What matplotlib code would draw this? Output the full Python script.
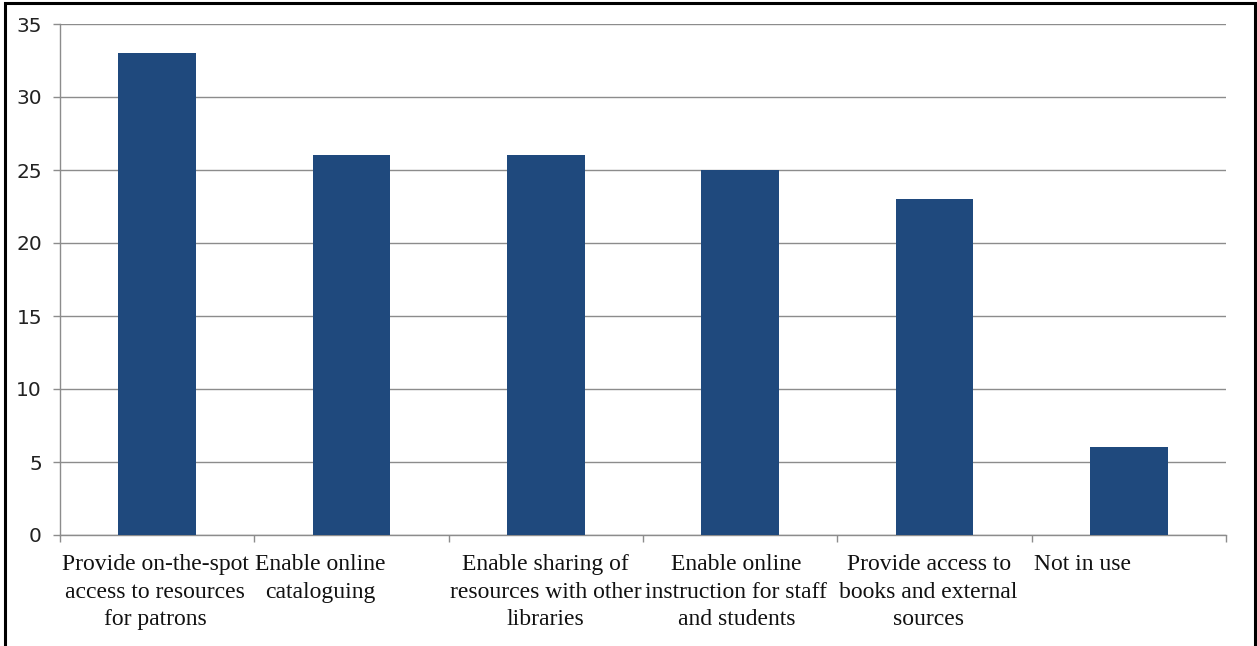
import matplotlib
matplotlib.use("Agg")
import matplotlib.pyplot as plt
import matplotlib.patches as patches
import numpy as np

categories = [
    "Provide on-the-spot\naccess to resources\nfor patrons",
    "Enable online\ncataloguing",
    "Enable sharing of\nresources with other\nlibraries",
    "Enable online\ninstruction for staff\nand students",
    "Provide access to\nbooks and external\nsources",
    "Not in use",
]
values = [33, 26, 26, 25, 23, 6]
yticks = [0, 5, 10, 15, 20, 25, 30, 35]

# label shift (in category widths) to mimic how the spreadsheet placed them
label_shift = [-0.01, -0.16, 0.0, -0.02, -0.03, -0.24]

W, H = 1257, 646
fig = plt.figure(figsize=(W / 100, H / 100), dpi=100)
ax = fig.add_axes([60 / W, (H - 535) / H, (1226 - 60) / W, (535 - 24) / H])

x = np.arange(len(values))
ax.bar(x, values, width=0.4, color="#1F497D", zorder=3)

grid = "#8C8C8C"
ax.set_ylim(0, 35)
ax.set_xlim(-0.5, len(values) - 0.5)
ax.set_yticks(yticks)
ax.set_yticklabels([str(v) for v in yticks], fontsize=14.5, family="DejaVu Sans",
                   color="#222222")
ax.yaxis.grid(True, color=grid, lw=1.0, zorder=0)

ax.set_xticks(x + np.array(label_shift))
ax.set_xticklabels(categories, fontsize=17, family="Liberation Serif",
                   linespacing=1.4, color="#111111")
ax.set_xticks(np.arange(-0.5, len(values)), minor=True)
ax.tick_params(axis="x", which="major", length=0, pad=14)
ax.tick_params(axis="x", which="minor", length=5, color=grid, width=1)
ax.tick_params(axis="y", length=5, color=grid, width=1, pad=8)

for s in ["top", "right"]:
    ax.spines[s].set_visible(False)
for s in ["left", "bottom"]:
    ax.spines[s].set_color(grid)
    ax.spines[s].set_linewidth(1)

# outer frame
frame = patches.Rectangle((5 / W, -0.05), (1255 - 5) / W, 1.05 - 3 / H,
                          transform=fig.transFigure, fill=False,
                          edgecolor="black", lw=2.2, clip_on=False)
fig.patches.append(frame)

fig.savefig("out.png", dpi=100)
